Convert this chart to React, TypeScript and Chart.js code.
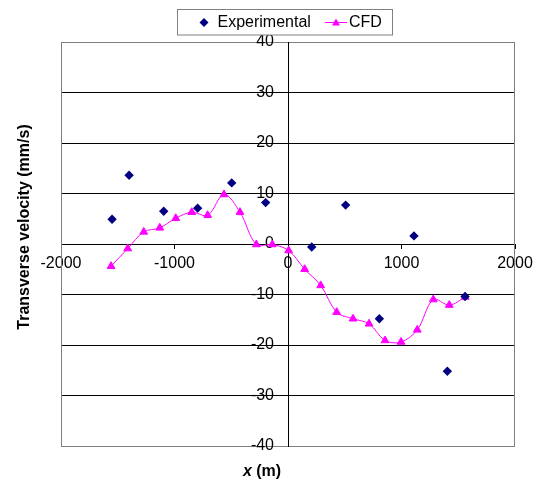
import React, { useEffect, useRef } from "react";
import { Chart, registerables } from "chart.js";

Chart.register(...registerables);

const expX = [-1550, -1400, -1095, -796, -496, -197, 209, 508, 805, 1110, 1404, 1560];
const expY = [4.9, 13.6, 6.5, 7.1, 12.1, 8.2, -0.6, 7.7, -14.8, 1.6, -25.2, -10.4];

const cfdX = [-1559, -1412, -1271, -1130, -989, -848, -708, -564, -423, -279, -138, 6, 147, 288, 429, 573, 714, 855, 996, 1139, 1280, 1421, 1562];
const cfdY = [-4.4, -0.9, 2.4, 3.2, 5.1, 6.3, 5.7, 9.8, 6.3, -0.1, -0.1, -1.3, -5.0, -8.2, -13.5, -14.8, -15.8, -19.1, -19.4, -17.0, -11.0, -12.1, -10.5];

const xTicks = [-2000, -1000, 0, 1000, 2000];
const yTicks = [-40, -30, -20, -10, 0, 10, 20, 30, 40];

const seriesNames = ["Experimental", "CFD"];
const yTitle = "Transverse velocity (mm/s)";
const xTitleVar = "x";
const xTitleUnit = " (m)";

const FONT = "Arial, 'Liberation Sans', sans-serif";
const NAVY = "#000080";
const MAGENTA = "#FF00FF";

const decorPlugin = {
  id: "decor",
  beforeDatasetsDraw(chart: any) {
    const { ctx, chartArea } = chart;
    ctx.save();
    ctx.strokeStyle = "#808080";
    ctx.lineWidth = 1;
    ctx.beginPath();
    ctx.moveTo(Math.round(chartArea.left) + 0.5, chartArea.top);
    ctx.lineTo(Math.round(chartArea.left) + 0.5, chartArea.bottom);
    ctx.moveTo(Math.round(chartArea.right) - 0.5, chartArea.top);
    ctx.lineTo(Math.round(chartArea.right) - 0.5, chartArea.bottom);
    ctx.stroke();
    ctx.restore();
  },
  afterDraw(chart: any) {
    const { ctx } = chart;
    ctx.save();
    // legend
    ctx.strokeStyle = "#808080";
    ctx.lineWidth = 1;
    ctx.fillStyle = "#ffffff";
    ctx.fillRect(177, 9.5, 216, 25.5);
    ctx.strokeRect(177.5, 9.5, 215, 25.5);
    // diamond
    ctx.fillStyle = NAVY;
    ctx.beginPath();
    ctx.moveTo(204, 18);
    ctx.lineTo(208.5, 22.5);
    ctx.lineTo(204, 27);
    ctx.lineTo(199.5, 22.5);
    ctx.closePath();
    ctx.fill();
    ctx.fillStyle = "#000";
    ctx.font = `16px ${FONT}`;
    ctx.textBaseline = "middle";
    ctx.textAlign = "left";
    ctx.fillText(seriesNames[0], 217.5, 23);
    // CFD sample
    ctx.strokeStyle = MAGENTA;
    ctx.beginPath();
    ctx.moveTo(325, 22.5);
    ctx.lineTo(347, 22.5);
    ctx.stroke();
    ctx.fillStyle = MAGENTA;
    ctx.beginPath();
    ctx.moveTo(336, 18.5);
    ctx.lineTo(340, 25.5);
    ctx.lineTo(332, 25.5);
    ctx.closePath();
    ctx.fill();
    ctx.fillStyle = "#000";
    ctx.fillText(seriesNames[1], 349, 23);

    // y title
    ctx.save();
    ctx.translate(25, 227);
    ctx.rotate(-Math.PI / 2);
    ctx.font = `bold 16px ${FONT}`;
    ctx.textAlign = "center";
    ctx.textBaseline = "middle";
    ctx.fillText(yTitle, 0, 0);
    ctx.restore();

    // x title
    ctx.font = `italic bold 16px ${FONT}`;
    const w1 = ctx.measureText(xTitleVar).width;
    ctx.font = `bold 16px ${FONT}`;
    const w2 = ctx.measureText(xTitleUnit).width;
    const start = 262 - (w1 + w2) / 2;
    ctx.textAlign = "left";
    ctx.textBaseline = "middle";
    ctx.font = `italic bold 16px ${FONT}`;
    ctx.fillText(xTitleVar, start, 472);
    ctx.font = `bold 16px ${FONT}`;
    ctx.fillText(xTitleUnit, start + w1, 472);
    ctx.restore();
  },
};

export default function App() {
  const ref = useRef<HTMLCanvasElement>(null);
  useEffect(() => {
    if (!ref.current) return;
    const chart = new Chart(ref.current, {
      type: "scatter",
      data: {
        datasets: [
          {
            label: seriesNames[0],
            data: expX.map((x, i) => ({ x, y: expY[i] })),
            pointStyle: "rectRot",
            pointRadius: 4.7,
            pointHoverRadius: 4.7,
            backgroundColor: NAVY,
            borderColor: NAVY,
            borderWidth: 0,
            showLine: false,
          },
          {
            label: seriesNames[1],
            data: cfdX.map((x, i) => ({ x, y: cfdY[i] })),
            pointStyle: "triangle",
            pointRadius: 4.5,
            pointHoverRadius: 4.5,
            backgroundColor: MAGENTA,
            borderColor: MAGENTA,
            borderWidth: 1,
            showLine: true,
            tension: 0.35,
          },
        ],
      },
      options: {
        animation: false,
        responsive: false,
        devicePixelRatio: 1,
        layout: { padding: { left: 61, right: 25, top: 42, bottom: 35 } },
        plugins: { legend: { display: false }, tooltip: { enabled: false } },
        scales: {
          x: {
            type: "linear",
            min: -2000,
            max: 2000,
            position: "center",
            afterBuildTicks: (s: any) => {
              s.ticks = xTicks.map((v) => ({ value: v }));
            },
            ticks: {
              color: "#000",
              font: { family: FONT, size: 16 },
              padding: 6,
              maxRotation: 0,
              autoSkip: false,
              callback: (v: any) => String(v),
            },
            grid: { drawOnChartArea: false, drawTicks: true, tickLength: 4, color: "#000" },
            border: { display: true, color: "#000", width: 1 },
          },
          y: {
            type: "linear",
            min: -40,
            max: 40,
            position: "center",
            afterBuildTicks: (s: any) => {
              s.ticks = yTicks.map((v) => ({ value: v }));
            },
            ticks: {
              color: "#000",
              font: { family: FONT, size: 16 },
              padding: 10,
              autoSkip: false,
              callback: (v: any) => String(v),
            },
            grid: {
              drawOnChartArea: true,
              drawTicks: true,
              tickLength: 4,
              color: (c: any) => (c.tick && Math.abs(c.tick.value) === 40 ? "#808080" : "#000"),
            },
            border: { display: true, color: "#000", width: 1 },
          },
        },
      },
      plugins: [decorPlugin],
    });
    return () => chart.destroy();
  }, []);
  return (
    <div style={{ position: "absolute", left: 0, top: 0, width: 540, height: 481, background: "#fff" }}>
      <canvas ref={ref} width={540} height={481} style={{ width: 540, height: 481 }} />
    </div>
  );
}
